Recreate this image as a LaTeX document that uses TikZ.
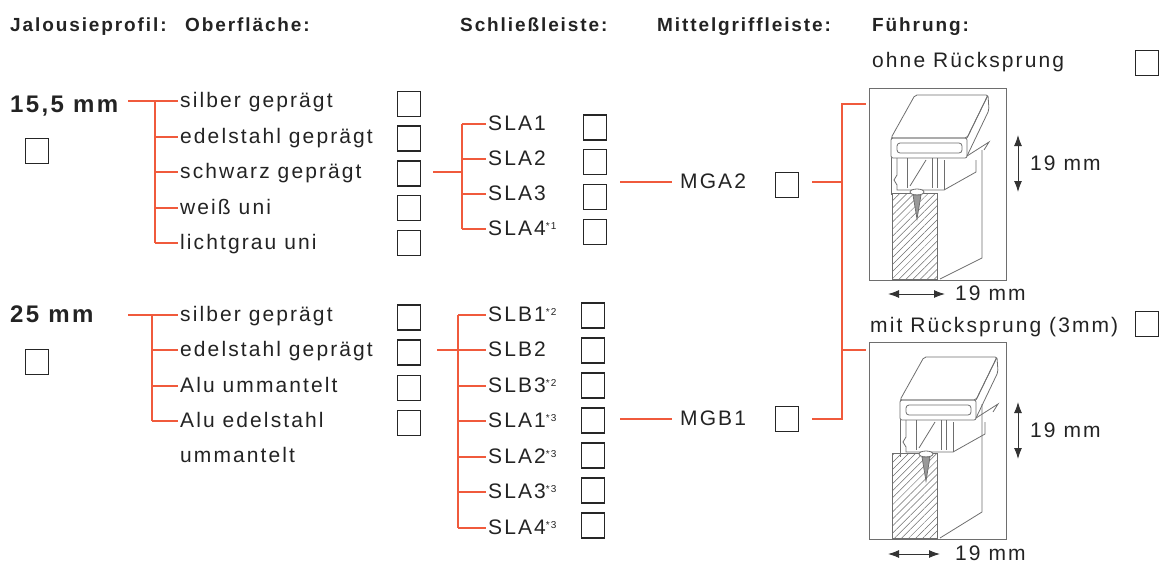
\documentclass[tikz,border=0pt]{standalone}
\usepackage{fontspec}
\setmainfont{Liberation Sans}[LetterSpace=10]
\usetikzlibrary{arrows.meta, patterns.meta}

\definecolor{signalrot}{RGB}{240,90,60}
\definecolor{schrift}{RGB}{35,35,35}
\definecolor{zeichnung}{RGB}{110,110,110}

\newcommand{\stern}[1]{\raisebox{6pt}{\fontsize{10}{10}\selectfont *#1}}

\tikzset{
  eintrag/.style={anchor=base west, inner xsep=2pt, inner ysep=0pt, text height=15pt, text depth=3pt,
    text=schrift, font=\fontsize{21}{24}\selectfont},
  kopf/.style={eintrag, font=\bfseries\fontsize{19}{22}\selectfont},
  gross/.style={eintrag, font=\bfseries\fontsize{24}{28}\selectfont},
  kasten/.style={draw=black!85, line width=1.4pt, minimum width=23pt, minimum height=25pt, inner sep=0pt},
  ast/.style={draw=signalrot, line width=2pt},
  rahmen/.style={draw=zeichnung, line width=1pt, minimum width=137pt, inner sep=0pt},
  bild/.style={draw=zeichnung, line width=0.8pt},
  mass/.style={draw=black!80, line width=1pt, {Latex[length=11pt,width=8pt]}-{Latex[length=11pt,width=8pt]}}
}

\begin{document}
\begin{tikzpicture}[x=1pt, y=-1pt]
\useasboundingbox (0,0) rectangle (1160,563);

% Kopfzeile
\node[kopf] (kprofil) at (8,31) {Jalousieprofil:};
\node[kopf] (kober) at (183,31) {Oberfläche:};
\node[kopf] (kschliess) at (458,31) {Schließleiste:};
\node[kopf] (kmittel) at (655,31) {Mittelgriffleiste:};
\node[kopf] (kfuehr) at (870,31) {Führung:};

% 15,5 mm
\node[gross] (p155) at (8,112) {15,5 mm};
\node[kasten] (bp155) at (37,151) {};
\foreach \t [count=\i] in {silber geprägt, edelstahl geprägt, schwarz geprägt, weiß uni, lichtgrau uni} {
  \node[eintrag] (oa\i) at (178,{round(71.5+35.5*\i)}) {\t};
  \node[kasten] (boa\i) at (409,{69+34.8*\i}) {};
}
\coordinate (ta) at (155,0);
\draw[ast] ([xshift=-27pt]ta |- oa1.west) -- (oa1.west);
\draw[ast] (ta |- oa1.west) -- (ta |- oa5.west);
\foreach \i in {2,...,5} \draw[ast] (ta |- oa\i.west) -- (oa\i.west);

\foreach \t [count=\i] in {SLA1, SLA2, SLA3, SLA4\stern{1}} {
  \node[eintrag] (sa\i) at (486,{95+35*\i}) {\t};
  \node[kasten] (bsa\i) at (595,{92.5+34.8*\i}) {};
}
\coordinate (tb) at (462,0);
\draw[ast] ([xshift=12pt]boa3.east |- oa3.west) -- (tb |- oa3.west);
\draw[ast] (tb |- sa1.west) -- (tb |- sa4.west);
\foreach \i in {1,...,4} \draw[ast] (tb |- sa\i.west) -- (sa\i.west);

\node[eintrag] (mga) at (678,188) {MGA2};
\node[kasten] (bmga) at (787,185) {};
\draw[ast] ([xshift=13pt]bsa3.east |- mga.west) -- ([xshift=-6pt]mga.west);

% 25 mm
\node[gross] (p25) at (8,322) {25 mm};
\node[kasten] (bp25) at (37,362) {};
\foreach \t [count=\i] in {silber geprägt, edelstahl geprägt, Alu ummantelt, Alu edelstahl} {
  \node[eintrag] (ob\i) at (178,{round(285+35.5*\i)}) {\t};
  \node[kasten] (bob\i) at (409,{282+35.3*\i}) {};
}
\node[eintrag] (ob4x) at (178,462) {ummantelt};
\coordinate (tc) at (152,0);
\draw[ast] ([xshift=-24pt]tc |- ob1.west) -- (ob1.west);
\draw[ast] (tc |- ob1.west) -- (tc |- ob4.west);
\foreach \i in {2,...,4} \draw[ast] (tc |- ob\i.west) -- (ob\i.west);

\foreach \t [count=\i] in {SLB1\stern{2}, SLB2, SLB3\stern{2}, SLA1\stern{3}, SLA2\stern{3}, SLA3\stern{3}, SLA4\stern{3}} {
  \node[eintrag] (sb\i) at (486,{round(285+35.5*\i)}) {\t};
  \node[kasten] (bsb\i) at (593,{280.5+35*\i}) {};
}
\coordinate (td) at (458,0);
\draw[ast] ([xshift=16pt]bob2.east |- sb2.west) -- (sb2.west);
\draw[ast] (td |- sb1.west) -- (td |- sb7.west);
\foreach \i in {1,3,4,5,6,7} \draw[ast] (td |- sb\i.west) -- (sb\i.west);

\node[eintrag] (mgb) at (678,425) {MGB1};
\node[kasten] (bmgb) at (787,419) {};
\draw[ast] ([xshift=15pt]bsb4.east |- mgb.west) -- ([xshift=-6pt]mgb.west);

% Fuehrung
\node[eintrag] (ohne) at (870,67) {ohne Rücksprung};
\node[kasten] (bohne) at (1147,63) {};
\node[eintrag] (mit) at (868,332) {mit Rücksprung (3mm)};
\node[kasten] (bmit) at (1147,324) {};
\node[rahmen, minimum height=192pt] (fa) at (937.5,184) {};
\node[rahmen, minimum height=197pt] (fb) at (937.5,440.5) {};

\coordinate (tf) at (842,0);
\coordinate (fa1) at ([xshift=-3pt,yshift=-16pt]fa.north west);
\coordinate (fb1) at ([xshift=-3pt,yshift=-8pt]fb.north west);
\draw[ast] (fa1) -- (tf |- fa1) |- ([xshift=13pt]bmgb.east |- mgb.west);
\draw[ast] (tf |- fb1) -- (fb1);
\draw[ast] ([xshift=13pt]bmga.east |- mga.west) -- (tf |- mga.west);

% Profil im Schnitt
\foreach \dy/\px/\py/\wt/\wb in {0/0/0/0/279, 254/9/8/6/538} {
  \draw[bild, pattern={Lines[angle=45,distance=5pt,line width=0.5pt]}, pattern color=zeichnung]
    (892,193+\dy+\wt) rectangle (937,\wb);
  \draw[bild] (982,150+\dy) -- (982,258+\dy) -- (940,\wb);
  \begin{scope}[shift={(\px,\dy+\py)}]
    \draw[bild, rounded corners=2pt] (891,138) -- (915,95) -- (988,95) -- (967,138) -- cycle;
    \draw[bild, rounded corners=2pt] (967,138) -- (988,95) -- (989,110) -- (967,156);
    \draw[bild, rounded corners=2pt] (891,138) rectangle (967,158);
    \draw[bild, rounded corners=3pt] (897,143) rectangle (962,153);
    \draw[bild] (967,156) -- (989,142) -- (984,150);
    \draw[bild] (944,190) -- (976,172) -- (976,160);
    \draw[bild] (891,158) -- (891,195);
    \draw[bild] (897,158) -- (897,175) -- (894,180) -- (897,185) -- (897,190) -- (944,190);
    \draw[bild] (907,158) -- (907,188) (932,158) -- (932,188) (937,158) -- (937,188);
    \draw[bild] (910,186) -- (926,160);
    \draw[bild] (944,160) -- (944,190);
    \draw[bild, fill=white] (917,192) ellipse [x radius=7pt, y radius=3pt];
    \draw[bild, fill=zeichnung!70] (913,195) -- (917,219) -- (921,195) -- cycle;
  \end{scope}
}

% Masse
\node[eintrag] (mva) at (1028,170) {19 mm};
\node[eintrag] (mha) at (953,300) {19 mm};
\node[eintrag] (mvb) at (1028,437) {19 mm};
\node[eintrag] (mhb) at (953,560) {19 mm};
\draw[mass] ([xshift=-10pt,yshift=29pt]mva.west) -- ([xshift=-10pt,yshift=-28pt]mva.west);
\draw[mass] ([xshift=-10pt,yshift=29pt]mvb.west) -- ([xshift=-10pt,yshift=-28pt]mvb.west);
\draw[mass] ([xshift=-65pt]mha.west) -- ([xshift=-8pt]mha.west);
\draw[mass] ([xshift=-65pt]mhb.west) -- ([xshift=-13pt]mhb.west);
\end{tikzpicture}
\end{document}
